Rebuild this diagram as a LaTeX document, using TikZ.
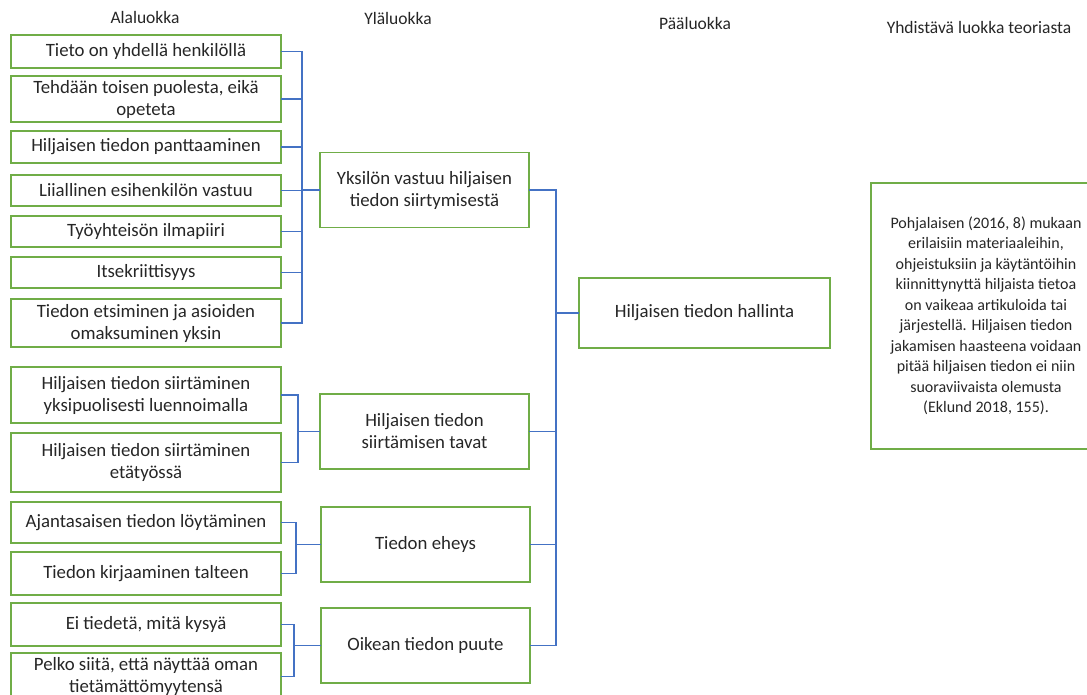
\documentclass[tikz,border=0pt]{standalone}
\usepackage{fontspec}
\setmainfont{Carlito}
\usetikzlibrary{positioning}
\definecolor{boxgreen}{RGB}{112,173,71}
\definecolor{linkblue}{RGB}{68,114,196}
\definecolor{textgray}{RGB}{38,38,38}

\begin{document}
\begin{tikzpicture}[x=1pt, y=1pt,
    node distance=9pt,
    box/.style={draw=boxgreen, line width=1.3pt, outer sep=0pt, text=textgray, minimum width=270pt, align=center, inner sep=2pt, font=\fontsize{18.8}{22}\selectfont},
    midbox/.style={box, minimum width=209pt, minimum height=75pt},
    theorybox/.style={box, minimum width=230pt, minimum height=266pt, font=\fontsize{16}{20.5}\selectfont},
    header/.style={text=textgray, font=\fontsize{17.5}{21}\selectfont},
    link/.style={draw=linkblue, line width=1.3pt}]

  \clip (0,0) rectangle (1087,-695);

  % otsikot
  \node[header] (hala) at (145,-17) {Alaluokka};
  \node[header] (hyla) at (398,-18) {Yläluokka};
  \node[header] (hpaa) at (695,-23) {Pääluokka};
  \node[header] (hteo) at (979,-27) {Yhdistävä luokka teoriasta};

  % alaluokat
  \node[box, minimum height=33pt] (ala1) at (146,-51.5) {Tieto on yhdellä henkilöllä};
  \node[box, minimum height=46pt, below=8pt of ala1] (ala2) {Tehdään toisen puolesta, eikä\\opeteta};
  \node[box, minimum height=32pt, below=of ala2] (ala3) {Hiljaisen tiedon panttaaminen};
  \node[box, minimum height=31pt, below=12pt of ala3] (ala4) {Liiallinen esihenkilön vastuu};
  \node[box, minimum height=31pt, below=10pt of ala4] (ala5) {Työyhteisön ilmapiiri};
  \node[box, minimum height=31pt, below=10pt of ala5] (ala6) {Itsekriittisyys};
  \node[box, minimum height=48pt, below=11pt of ala6] (ala7) {Tiedon etsiminen ja asioiden\\omaksuminen yksin};
  \node[box, minimum height=56pt, below=20pt of ala7] (ala8) {Hiljaisen tiedon siirtäminen\\yksipuolisesti luennoimalla};
  \node[box, minimum height=59pt, below=10pt of ala8] (ala9) {Hiljaisen tiedon siirtäminen\\etätyössä};
  \node[box, minimum height=41pt, below=10pt of ala9] (ala10) {Ajantasaisen tiedon löytäminen};
  \node[box, minimum height=43pt, below=of ala10] (ala11) {Tiedon kirjaaminen talteen};
  \node[box, minimum height=43pt, below=8pt of ala11] (ala12) {Ei tiedetä, mitä kysyä};
  \node[box, minimum height=47pt, below=7pt of ala12] (ala13) {Pelko siitä, että näyttää oman\\tietämättömyytensä};

  % yläluokat
  \node[midbox] (yla1) at (424.5,-190) {Yksilön vastuu hiljaisen\\tiedon siirtymisestä};
  \node[midbox] (yla2) at (424.5,-431.5) {Hiljaisen tiedon\\siirtämisen tavat};
  \node[midbox] (yla3) at (425.5,-544.5) {Tiedon eheys};
  \node[midbox] (yla4) at (425.5,-645.5) {Oikean tiedon puute};

  % pääluokka ja teoria
  \node[box, minimum width=251pt, minimum height=70pt] (paa) at (704.5,-313) {Hiljaisen tiedon hallinta};
  \node[theorybox] (teoria) at (986,-316) {Pohjalaisen (2016, 8) mukaan\\erilaisiin materiaaleihin,\\ohjeistuksiin ja käytäntöihin\\kiinnittynyttä hiljaista tietoa\\on vaikeaa artikuloida tai\\järjestellä. Hiljaisen tiedon\\jakamisen haasteena voidaan\\pitää hiljaisen tiedon ei niin\\suoraviivaista olemusta\\(Eklund 2018, 155).};

  % haarat
  \coordinate[left=18pt of yla1.west] (hak1);
  \coordinate[left=22pt of yla2.west] (hak2);
  \coordinate[left=25pt of yla3.west] (hak3);
  \coordinate[left=27pt of yla4.west] (hak4);
  \coordinate[left=23pt of paa.west] (runko);

  \foreach \a in {1,...,7} \draw[link] (ala\a.east) -| (hak1);
  \draw[link] (hak1) -- (yla1.west);
  \foreach \a in {8,9} \draw[link] (ala\a.east) -| (hak2);
  \draw[link] (hak2) -- (yla2.west);
  \foreach \a in {10,11} \draw[link] (ala\a.east) -| (hak3);
  \draw[link] (hak3) -- (yla3.west);
  \foreach \a in {12,13} \draw[link] (ala\a.east) -| (hak4);
  \draw[link] (hak4) -- (yla4.west);

  \foreach \y in {1,...,4} \draw[link] (yla\y.east) -| (runko);
  \draw[link] (runko) -- (paa.west);
\end{tikzpicture}
\end{document}
